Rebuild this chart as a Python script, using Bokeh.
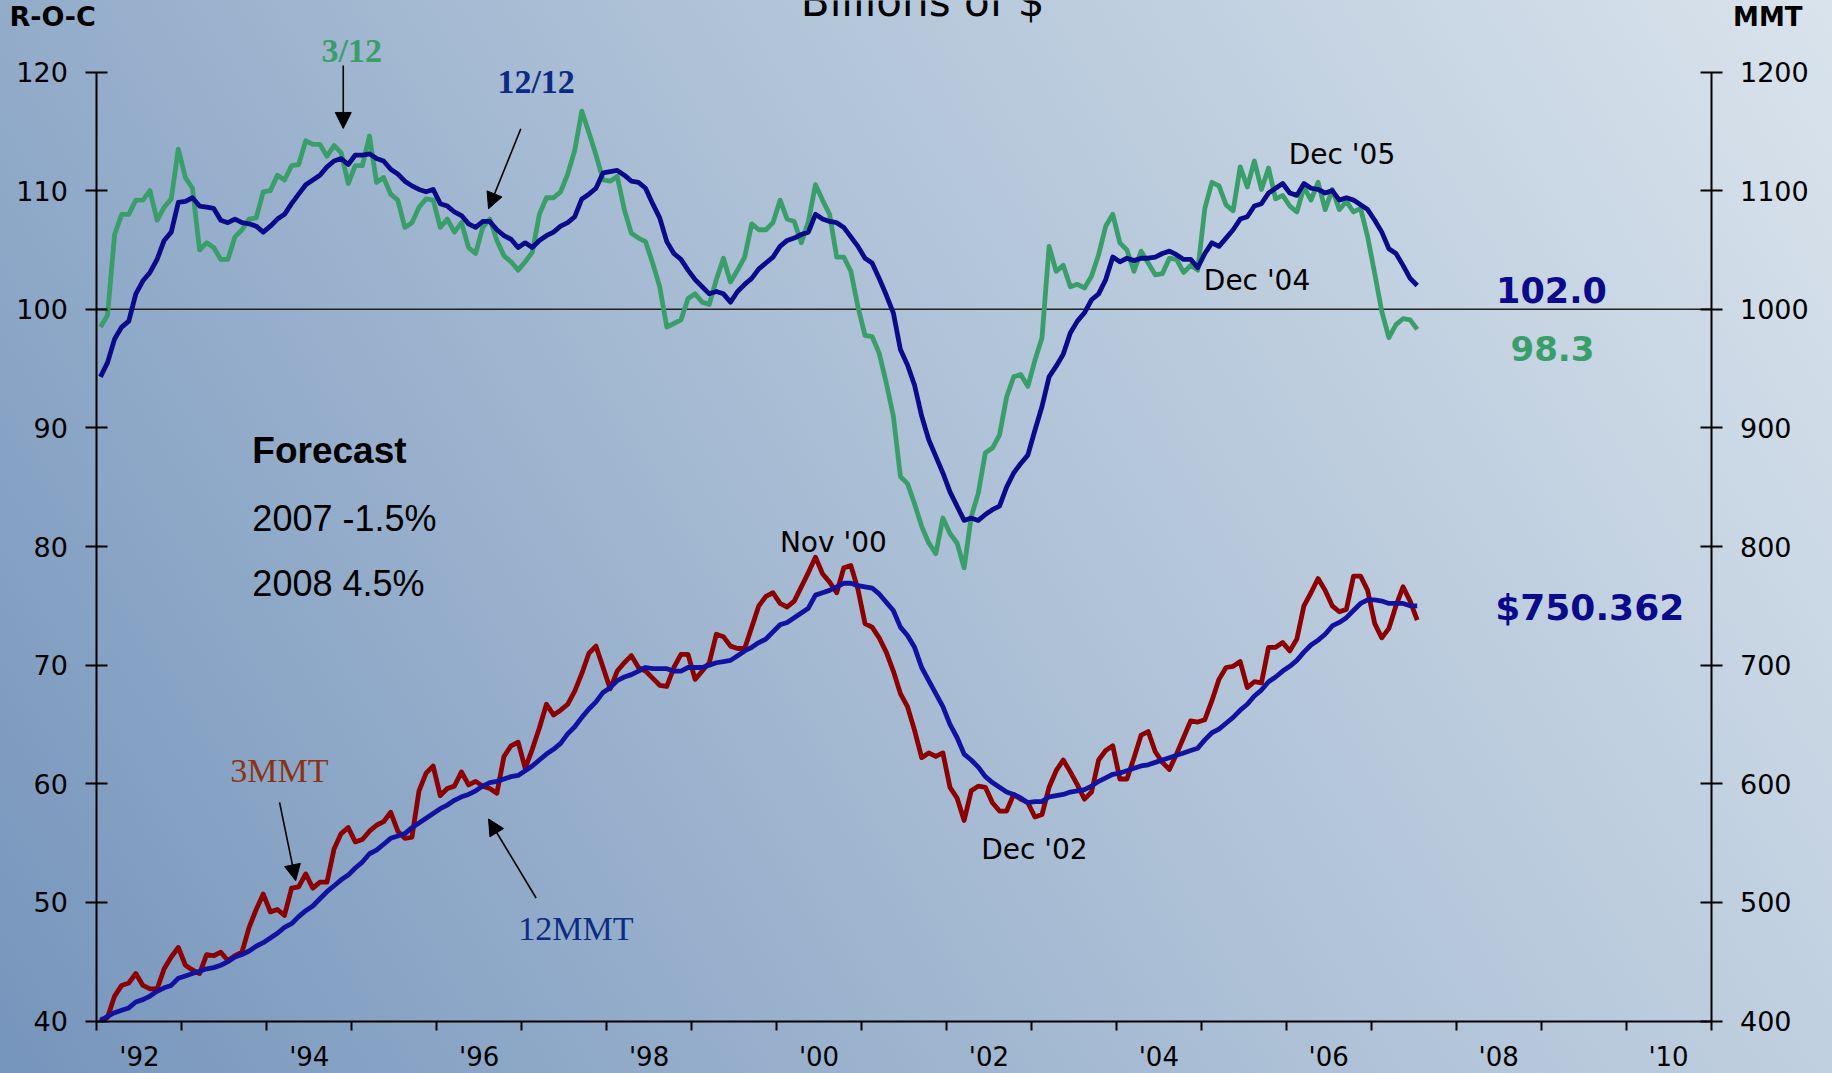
import numpy as np
from bokeh.plotting import figure
from bokeh.models import Range1d, LinearAxis, FixedTicker, Label, Arrow, NormalHead
from bokeh.embed import file_html
from bokeh.resources import INLINE

# ---------------- data (monthly, Jan 1992 .. Jul 2007) ----------------
start_year = 1992

roc_3_12 = [
    98.5, 99.5, 106.3, 108.0, 108.0, 109.2, 109.2, 110.0, 107.5, 108.6,
    109.3, 113.5, 111.1, 110.2, 105.0, 105.6, 105.2, 104.2, 104.2, 106.1,
    106.7, 107.6, 107.7, 109.9, 110.0, 111.3, 110.9, 112.1, 112.2, 114.2,
    113.9, 113.9, 112.9, 113.8, 113.2, 110.6, 112.1, 112.1, 114.6, 110.7,
    111.1, 109.7, 109.2, 106.9, 107.3, 108.6, 109.3, 109.2, 106.9, 107.6,
    106.5, 107.3, 105.2, 104.7, 106.9, 107.6, 105.8, 104.5, 104.0, 103.3,
    104.0, 104.8, 108.0, 109.4, 109.4, 109.9, 111.4, 113.4, 116.7, 114.9,
    113.0, 110.9, 110.8, 111.2, 108.4, 106.4, 106.0, 105.7, 103.9, 101.9,
    98.5, 98.8, 99.1, 100.9, 101.3, 100.6, 100.4, 102.5, 104.3, 102.3,
    103.3, 104.4, 107.2, 106.7, 106.7, 107.3, 109.2, 107.6, 107.4, 105.6,
    107.4, 110.5, 109.2, 108.0, 104.4, 104.4, 103.2, 100.2, 97.8, 97.7,
    96.3, 93.8, 91.0, 85.9, 85.3, 83.6, 81.7, 80.3, 79.4, 82.4,
    81.1, 80.3, 78.2, 82.5, 84.5, 87.9, 88.3, 89.4, 92.6, 94.3,
    94.5, 93.5, 95.7, 97.6, 105.3, 103.2, 103.7, 101.9, 102.1, 101.8,
    102.8, 104.6, 107.0, 108.0, 105.6, 105.0, 103.2, 104.9, 103.9, 102.9,
    103.0, 104.3, 104.2, 103.1, 103.7, 103.3, 108.5, 110.7, 110.4, 108.8,
    108.3, 112.0, 110.3, 112.5, 110.1, 111.9, 109.3, 109.6, 108.7, 108.2,
    110.3, 109.2, 110.7, 108.4, 110.1, 108.4, 109.1, 108.2, 108.5, 106.1,
    103.0, 99.8, 97.6, 98.7, 99.2, 99.1, 98.3,
]

roc_12_12 = [
    94.3, 95.5, 97.5, 98.5, 99.0, 101.3, 102.4, 103.1, 104.2, 105.8,
    106.5, 109.0, 109.1, 109.4, 108.7, 108.6, 108.5, 107.5, 107.3, 107.6,
    107.3, 107.2, 107.0, 106.5, 107.0, 107.6, 108.0, 108.9, 109.7, 110.5,
    110.9, 111.3, 112.0, 112.5, 112.7, 112.2, 113.0, 113.0, 113.1, 112.7,
    112.5, 111.8, 111.4, 110.8, 110.4, 110.1, 109.9, 110.1, 108.9, 108.7,
    108.2, 107.9, 107.2, 106.9, 107.4, 107.4, 106.7, 106.2, 105.9, 105.2,
    105.6, 105.2, 105.8, 106.2, 106.5, 107.0, 107.3, 107.8, 109.3, 109.7,
    110.2, 111.5, 111.6, 111.7, 111.3, 110.8, 110.7, 110.2, 108.9, 107.7,
    105.7, 104.7, 104.2, 103.3, 102.5, 101.9, 101.3, 101.5, 101.3, 100.6,
    101.5, 102.1, 102.6, 103.4, 103.9, 104.4, 105.3, 105.8, 106.0, 106.3,
    106.5, 108.0, 107.6, 107.4, 107.3, 106.9, 106.1, 105.3, 104.3, 103.9,
    102.6, 101.2, 99.7, 96.6, 95.3, 93.6, 91.0, 89.0, 87.6, 86.2,
    84.6, 83.4, 82.2, 82.4, 82.2, 82.7, 83.1, 83.4, 85.0, 86.2,
    87.0, 87.7, 89.8, 91.8, 94.3, 95.2, 96.2, 98.0, 99.0, 99.7,
    100.8, 101.3, 102.5, 104.4, 104.0, 104.3, 104.1, 104.3, 104.3, 104.4,
    104.7, 104.9, 104.6, 104.2, 104.2, 103.5, 104.7, 105.6, 105.3, 106.0,
    106.7, 107.6, 107.8, 108.7, 108.9, 109.8, 110.2, 110.6, 109.8, 109.6,
    110.6, 110.2, 110.1, 109.8, 110.0, 109.2, 109.4, 109.2, 108.8, 108.4,
    107.5, 106.5, 105.1, 104.7, 103.7, 102.6, 102.0,
]

mmt_3 = [
    401, 403, 421, 430, 432, 440, 430, 427, 427, 444,
    454, 462, 447, 443, 440, 456, 455, 458, 451, 455,
    458, 479, 494, 507, 492, 494, 489, 512, 513, 524,
    512, 517, 517, 545, 558, 563, 551, 553, 560, 565,
    568, 576, 560, 554, 555, 594, 609, 615, 590, 596,
    598, 610, 599, 602, 598, 596, 592, 623, 632, 635,
    613, 629, 647, 667, 658, 662, 667, 678, 693, 710,
    716, 698, 680, 695, 702, 708, 698, 695, 689, 683,
    682, 698, 709, 709, 688, 695, 702, 726, 724, 716,
    714, 714, 732, 750, 758, 761, 752, 749, 754, 766,
    778, 791, 777, 770, 761, 782, 784, 764, 735, 732,
    723, 711, 695, 676, 665, 645, 622, 626, 623, 626,
    597, 588, 569, 594, 598, 597, 584, 577, 577, 591,
    587, 584, 572, 574, 597, 611, 620, 610, 599, 587,
    593, 620, 628, 632, 604, 604, 622, 641, 644, 627,
    618, 612, 625, 639, 653, 652, 654, 670, 688, 698,
    699, 703, 681, 686, 685, 715, 715, 719, 712, 722,
    750, 761, 773, 763, 750, 745, 747, 775, 775, 763,
    735, 723, 731, 750, 766, 754, 738,
]

mmt_12 = [
    400, 404, 407, 409, 411, 416, 418, 421, 425, 428,
    430, 436, 438, 440, 442, 444, 445, 447, 450, 454,
    456, 459, 463, 466, 470, 474, 479, 482, 488, 493,
    497, 503, 509, 514, 519, 523, 529, 534, 541, 544,
    549, 554, 556, 558, 563, 567, 571, 575, 579, 582,
    586, 589, 591, 594, 598, 601, 602, 604, 606, 607,
    611, 615, 620, 625, 629, 634, 642, 648, 656, 663,
    669, 677, 681, 687, 690, 692, 695, 698, 697, 697,
    697, 695, 695, 698, 698, 698, 700, 702, 703, 704,
    708, 712, 715, 719, 722, 728, 734, 736, 740, 744,
    748, 759, 761, 763, 766, 769, 769, 767, 766, 765,
    760, 753, 746, 732, 725, 715, 698, 687, 676, 665,
    650, 639, 625, 620, 614, 606, 601, 597, 593, 591,
    588, 584, 585, 585, 589, 590, 591, 593, 594, 595,
    598, 602, 605, 608, 609, 611, 613, 615, 616, 618,
    620, 622, 624, 626, 628, 630, 637, 643, 646, 651,
    656, 662, 667, 674, 679, 686, 690, 695, 699, 704,
    711, 717, 721, 726, 733, 736, 740, 746, 752, 755,
    755, 754, 752, 752, 752, 750, 750,
]

left_ticks = [40, 50, 60, 70, 80, 90, 100, 110, 120]
right_ticks = [400, 500, 600, 700, 800, 900, 1000, 1100, 1200]
year_label_text = ["'92", "'94", "'96", "'98", "'00", "'02", "'04", "'06", "'08", "'10"]
year_label_years = [1992, 1994, 1996, 1998, 2000, 2002, 2004, 2006, 2008, 2010]
year_edges = list(range(1992, 2012))
ref_level = 100

# month centres
x = start_year + (np.arange(len(roc_3_12)) + 0.5) / 12.0

GREEN = "#3A9E6A"
NAVY = "#0A0A8A"
BLUE12 = "#1212A0"
RED = "#8B0000"
TXT_NAVY = "#0C2C84"
TXT_BROWN = "#8C3214"

W, H = 1832, 1073
# plot area of the chart in canvas pixels: years 1992..2011 -> 96.4..1710.5, values 40..120 -> 1020.5..71.5
px_per_year = (1710.5 - 96.4) / 19.0
px_per_unit = (1020.5 - 71.5) / 80.0
x_lo = 1992 - 96.4 / px_per_year
x_hi = 2011 + (W - 1710.5) / px_per_year
y_lo = 40 - (H - 1020.5) / px_per_unit
y_hi = 120 + 71.5 / px_per_unit

p = figure(width=W, height=H, x_range=Range1d(x_lo, x_hi), y_range=Range1d(y_lo, y_hi),
           output_backend="svg", toolbar_location=None,
           x_axis_type=None, y_axis_type=None,
           min_border_left=0, min_border_right=0, min_border_top=0, min_border_bottom=0)
p.extra_y_ranges = {"mmt": Range1d(y_lo * 10, y_hi * 10)}
p.background_fill_color = None
p.border_fill_color = None
p.outline_line_color = None
p.xgrid.grid_line_color = None
p.ygrid.grid_line_color = None
p.styles = {"background-image": "linear-gradient(58deg, #7695bc 0%, #a6bbd3 45%, #d9e3ec 100%)"}

AX_FONT = "DejaVu Sans"

left = LinearAxis(ticker=FixedTicker(ticks=left_ticks, minor_ticks=[]), fixed_location=1992, bounds=(40, 120))
right = LinearAxis(y_range_name="mmt", ticker=FixedTicker(ticks=right_ticks, minor_ticks=[]),
                   fixed_location=2011, bounds=(400, 1200))
for ax in (left, right):
    ax.axis_line_width = 2
    ax.axis_line_color = "black"
    ax.major_tick_in = 11
    ax.major_tick_out = 11
    ax.major_tick_line_width = 2
    ax.major_tick_line_color = "black"
    ax.minor_tick_line_color = None
    ax.major_label_text_font = AX_FONT
    ax.major_label_text_font_size = "27px"
    ax.major_label_text_color = "black"
    ax.major_label_standoff = 18
p.add_layout(left, "left")
p.add_layout(right, "right")

label_pos = [yr + 0.5 for yr in year_label_years]
bottom = LinearAxis(ticker=FixedTicker(ticks=label_pos, minor_ticks=year_edges),
                    fixed_location=40, bounds=(1992, 2011))
bottom.major_label_overrides = {pos: txt for pos, txt in zip(label_pos, year_label_text)}
bottom.axis_line_width = 2
bottom.axis_line_color = "black"
bottom.major_tick_in = 0
bottom.major_tick_out = 0
bottom.major_tick_line_color = None
bottom.minor_tick_in = 0
bottom.minor_tick_out = 9
bottom.minor_tick_line_width = 2
bottom.minor_tick_line_color = "black"
bottom.major_label_text_font = AX_FONT
bottom.major_label_text_font_size = "26px"
bottom.major_label_text_color = "black"
bottom.major_label_standoff = 12
p.add_layout(bottom, "below")

# reference line at 100 across the plot area
p.segment(x0=[year_edges[0]], y0=[ref_level], x1=[year_edges[-1]], y1=[ref_level],
          line_color="#222222", line_width=1.3)

# series
p.line(x, roc_3_12, line_color=GREEN, line_width=4.8, line_join="round")
p.line(x, roc_12_12, line_color=NAVY, line_width=4.8, line_join="round")
p.line(x, mmt_3, line_color=RED, line_width=4.8, line_join="round", y_range_name="mmt")
p.line(x, mmt_12, line_color=BLUE12, line_width=4.8, line_join="round", y_range_name="mmt")


def lab(xv, yv, text, font=AX_FONT, size=28, style="normal", color="black", align="left"):
    # yv is the wanted baseline; shift to compensate for the renderer's baseline placement
    y_adj = yv + 0.35 * size / px_per_unit
    p.add_layout(Label(x=xv, y=y_adj, text=text, text_font=font, text_font_size=f"{size}px",
                       text_font_style=style, text_color=color, text_align=align,
                       text_baseline="alphabetic"))


lab(2001.72, 124.68, "Billions of $", size=42, align="center")
lab(1990.97, 123.86, "R-O-C", size=27, style="bold")
lab(2011.26, 123.84, "MMT", size=26, style="bold")
lab(1995.0, 120.83, "3/12", font="Liberation Serif", size=34, style="bold", color=GREEN, align="center")
lab(1997.17, 118.21, "12/12", font="Liberation Serif", size=34, style="bold", color=TXT_NAVY, align="center")
lab(2006.03, 112.2, "Dec '05")
lab(2005.03, 101.58, "Dec '04")
lab(2008.47, 100.59, "102.0", size=35, style="bold", color=NAVY)
lab(2008.64, 95.67, "98.3", size=34, style="bold", color=GREEN)
lab(1993.83, 86.99, "Forecast", font="Liberation Sans", size=37, style="bold")
lab(1993.83, 81.34, "2007  -1.5%", font="Liberation Sans", size=36)
lab(1993.83, 75.78, "2008  4.5%", font="Liberation Sans", size=36)
lab(2000.04, 79.51, "Nov '00")
lab(2008.46, 73.83, "$750.362", size=36, style="bold", color=NAVY)
lab(1993.57, 60.11, "3MMT", font="Liberation Serif", size=34, color=TXT_BROWN)
lab(1996.96, 46.77, "12MMT", font="Liberation Serif", size=34, color=TXT_NAVY)
lab(2002.41, 53.64, "Dec '02")


def arrow(x0, y0, x1, y1):
    p.add_layout(Arrow(end=NormalHead(size=16, fill_color="black", line_color="black"),
                       x_start=x0, y_start=y0, x_end=x1, y_end=y1,
                       line_color="black", line_width=1.6))


arrow(1994.90, 120.55, 1994.90, 115.24)
arrow(1996.99, 115.21, 1996.61, 108.47)
arrow(1994.15, 58.43, 1994.34, 51.83)
arrow(1997.17, 50.37, 1996.61, 57.03)

open("out.html", "w").write(file_html(p, INLINE))
